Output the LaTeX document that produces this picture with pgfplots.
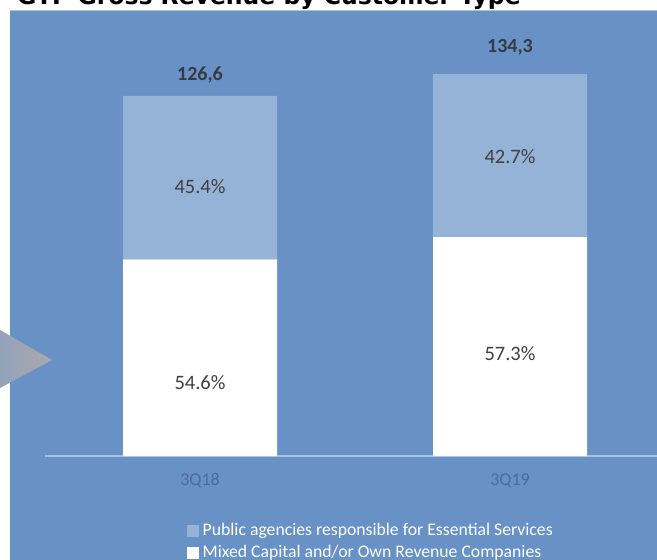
\documentclass[border=0pt]{standalone}
\usepackage{fontspec}
\setmainfont{Carlito}
\newfontfamily\titlefont{DejaVu Sans}
\usepackage{pgfplots}
\pgfplotsset{compat=1.18}
\definecolor{bgblue}{HTML}{6891C5}
\definecolor{lightbar}{HTML}{95B3D7}
\definecolor{axisline}{HTML}{A9C1E0}
\definecolor{lbl}{HTML}{404040}
\definecolor{tot}{HTML}{353A45}
\definecolor{cat}{HTML}{4E6C9A}
\definecolor{triL}{HTML}{8EA2BE}
\definecolor{triR}{HTML}{A9A9A9}
\begin{document}
\begin{tikzpicture}
\useasboundingbox (0bp,0bp) rectangle (657bp,560bp);
\clip (0bp,0bp) rectangle (657bp,560bp);
\fill[white] (0bp,0bp) rectangle (657bp,560bp);
\fill[bgblue] (10bp,0bp) rectangle (657bp,549bp);
\draw[axisline, line width=1bp] (10bp,549bp) -- (657bp,549bp);
\node[anchor=base west, inner sep=0pt, font=\titlefont\bfseries\fontsize{23.5bp}{28bp}\selectfont] at (17bp,555bp) {GTP Gross Revenue by Customer Type};
\shade[left color=triL, right color=triR] (-10bp,235.8bp) -- (52bp,200bp) -- (-10bp,166.6bp) -- cycle;
\begin{axis}[
  at={(45bp,104bp)}, anchor=south west,
  scale only axis, width=620bp, height=426.6bp,
  xmin=-0.5, xmax=1.5, ymin=0, ymax=150,
  axis y line=none, axis x line*=bottom,
  x axis line style={axisline, line width=1.5bp},
  xtick={0,1}, xticklabels={3Q18,3Q19},
  major tick length=0pt,
  xticklabel style={font=\fontsize{18bp}{20bp}\selectfont, text=cat, anchor=center, yshift=-25bp},
  ybar stacked, bar width=154bp,
  clip=false,
  reverse legend,
  legend cell align=left,
  legend image code/.code={\fill[#1, draw=none] (0bp,-6bp) rectangle (12bp,6bp);},
  legend style={at={(axis description cs:0.2242,-0.148)}, anchor=north west,
    draw=none, fill=none, text=white,
    font=\fontsize{17.7bp}{20bp}\selectfont,
    row sep=3bp,
    nodes={inner sep=2bp, text height=12bp, text depth=3bp}},
]
\addplot[draw=none, fill=white] coordinates {(0,69.12) (1,76.95)};
\addlegendentry{\hspace{1.5bp}Mixed Capital and/or Own Revenue Companies}
\addplot[draw=none, fill=lightbar] coordinates {(0,57.48) (1,57.35)};
\addlegendentry{\hspace{1.5bp}Public agencies responsible for Essential Services}
\end{axis}
\begin{axis}[
  at={(45bp,104bp)}, anchor=south west,
  scale only axis, width=620bp, height=426.6bp,
  xmin=-0.5, xmax=1.5, ymin=0, ymax=150,
  hide axis, clip=false,
  point meta=explicit symbolic,
  nodes near coords,
  every node near coord/.append style={anchor=center},
]
\addplot[draw=none, mark=none, nodes near coords style={font=\fontsize{20.5bp}{24bp}\selectfont, text=lbl}]
  coordinates {(0,25.7) [54.6\%] (1,35.9) [57.3\%] (0,94.9) [45.4\%] (1,105.1) [42.7\%]};
\addplot[draw=none, mark=none, nodes near coords style={font=\bfseries\fontsize{20bp}{24bp}\selectfont, text=tot}]
  coordinates {(0,134.0) [{126,6}] (1,143.8) [{134,3}]};
\end{axis}
\end{tikzpicture}
\end{document}
